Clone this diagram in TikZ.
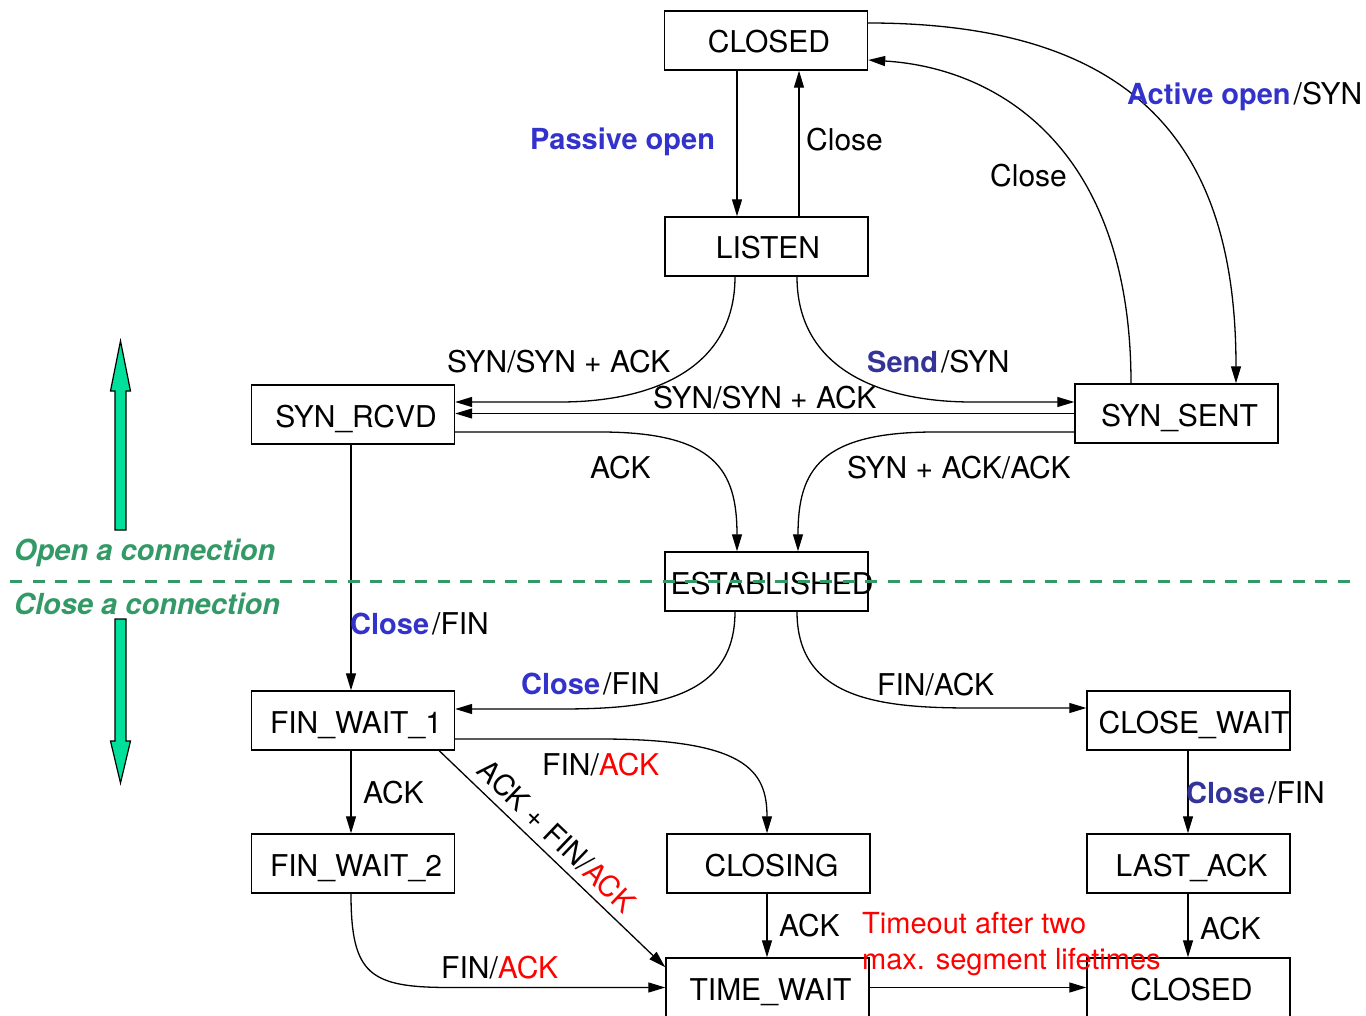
\documentclass[tikz,border=0pt]{standalone}
\usepackage{fontspec}
\setmainfont{TeX Gyre Heros}
\usetikzlibrary{arrows.meta}
\definecolor{actblue}{RGB}{51,51,204}
\definecolor{evtblue}{RGB}{51,51,153}
\definecolor{phasegreen}{RGB}{51,153,102}
\definecolor{mint}{RGB}{0,224,155}
\newcommand{\lblfont}{\fontsize{30}{35}\selectfont}
\newcommand{\boldfont}{\fontsize{29}{34}\selectfont\bfseries}
\newcommand{\notefont}{\fontsize{29}{34}\selectfont}
% state name, nudged right by half the kern without widening the box
\newcommand{\sname}[2][6pt]{\makebox[0pt]{\kern#1#2}}
\begin{document}
\begin{tikzpicture}[x=1pt,y=-1pt,
  state/.style={draw, line width=1.4pt, minimum width=203pt, minimum height=59pt, inner sep=0pt,
                text height=25pt, text depth=0pt, font=\lblfont},
  conn/.style={line width=1.3pt, -{Triangle[length=17pt,width=10pt]}},
  lbl/.style={anchor=base west, inner sep=0pt, font=\lblfont},
  phase/.style={lbl, text=phasegreen, font=\fontsize{29}{34}\selectfont\bfseries\itshape},
  bigarrow/.style={fill=mint, draw=black, line width=1.2pt, line join=miter}]
\useasboundingbox (0,0) rectangle (1366,1016);

% states
\node[state] (closedtop) at (766,40.5) {\sname{CLOSED}};
\node[state] (listen) at (766.5,246.5) {\sname[3pt]{LISTEN}};
\node[state] (synrcvd) at (353,414.5) {\sname{SYN\_RCVD}};
\node[state] (synsent) at (1176.5,413.5) {\sname{SYN\_SENT}};
\node[state] (estab) at (766.5,581.5) {\sname[11pt]{ESTABLISHED}};
\node[state] (fw1) at (353,720.5) {\sname{FIN\_WAIT\_1}};
\node[state] (closewait) at (1188.5,720.5) {\sname[11pt]{CLOSE\_WAIT}};
\node[state] (fw2) at (353,863.5) {\sname{FIN\_WAIT\_2}};
\node[state] (closing) at (768.5,863.5) {\sname{CLOSING}};
\node[state] (lastack) at (1188.5,863.5) {\sname{LAST\_ACK}};
\node[state] (timewait) at (767.5,987.5) {\sname{TIME\_WAIT}};
\node[state] (closedbot) at (1188.5,987.5) {\sname{CLOSED}};

% transitions: opening
\draw[conn] ([xshift=-29pt]closedtop.south) -- ([xshift=-29.5pt]listen.north);
\draw[conn] ([xshift=32.5pt]listen.north) -- ([xshift=33pt]closedtop.south);
\draw[conn] ([yshift=17.5pt]closedtop.east) .. controls (1150,23) and (1236,160) .. ([xshift=59.5pt]synsent.north);
\draw[conn] ([xshift=-45.5pt]synsent.north) .. controls (1131,150) and (1000,68) .. ([yshift=-19.5pt]closedtop.east);
\draw[conn] ([xshift=-31.5pt]listen.south) .. controls (735,370) and (650,402) .. (560,402) -- ([yshift=12.5pt]synrcvd.east);
\draw[conn] ([xshift=30.5pt]listen.south) .. controls (797,370) and (882,402) .. (972,402) -- ([yshift=11.5pt]synsent.west);
\draw[conn] (synsent.west) -- (synsent.west -| synrcvd.east);
\draw[conn] ([yshift=-17.5pt]synrcvd.east) -- (600,432) .. controls (715,432) and (737,470) .. ([xshift=-29.5pt]estab.north);
\draw[conn] ([yshift=-18.5pt]synsent.west) -- (935,432) .. controls (820,432) and (798,470) .. ([xshift=31.5pt]estab.north);

% transitions: closing
\draw[conn] ([xshift=-2pt]synrcvd.south) -- ([xshift=-2pt]fw1.north);
\draw[conn] ([xshift=-31.5pt]estab.south) .. controls (735,700) and (650,709) .. (560,709) -- ([yshift=11.5pt]fw1.east);
\draw[conn] ([xshift=30.5pt]estab.south) .. controls (797,700) and (882,708) .. (972,708) -- ([yshift=12.5pt]closewait.west);
\draw[conn] ([yshift=-18.5pt]fw1.east) -- (600,739) .. controls (745,739) and (767,770) .. ([xshift=-1.5pt]closing.north);
\draw[conn] ([xshift=-16pt]fw1.south east) -- node[pos=0.46, sloped, above=8pt, inner sep=0pt, font=\notefont] (ackfinack) {ACK + FIN/\textcolor{red}{ACK}} ([yshift=-10pt]timewait.north west);
\draw[conn] ([xshift=-2pt]fw1.south) -- ([xshift=-2pt]fw2.north);
\draw[conn] ([xshift=-2pt]fw2.south) .. controls (351,975) and (370,987.5) .. (450,987.5) -- (timewait.west);
\draw[conn] ([xshift=-1.5pt]closing.south) -- ([xshift=-0.5pt]timewait.north);
\draw[conn] (timewait.east) -- (closedbot.west);
\draw[conn] ([xshift=-0.5pt]closewait.south) -- ([xshift=-0.5pt]lastack.north);
\draw[conn] ([xshift=-0.5pt]lastack.south) -- ([xshift=-0.5pt]closedbot.north);

% transition labels
\node[lbl, text=actblue, font=\boldfont] (lpassive) at (530,150) {Passive open};
\node[lbl] (lclose1) at (806,151) {Close};
\node[lbl] (lactive) at (1127,105) {\textcolor{actblue}{\boldfont Active open}\kern3pt/SYN};
\node[lbl] (lclose2) at (990,187) {Close};
\node[lbl] (lsynack1) at (447,373) {SYN/SYN + ACK};
\node[lbl] (lsend) at (867,373) {\textcolor{evtblue}{\boldfont Send}\kern3pt/SYN};
\node[lbl] (lsynack2) at (653,408) {SYN/SYN + ACK};
\node[lbl] (lack1) at (590,478) {ACK};
\node[lbl] (lsynackack) at (847,478) {SYN + ACK/ACK};
\node[lbl] (lclosefin1) at (350,634) {\textcolor{actblue}{\boldfont Close}\kern3pt/FIN};
\node[lbl] (lclosefin2) at (521,694) {\textcolor{actblue}{\boldfont Close}\kern3pt/FIN};
\node[lbl] (lfinack1) at (877,695) {FIN/ACK};
\node[lbl] (lfinack2) at (542,775) {FIN/\textcolor{red}{ACK}};
\node[lbl] (lack2) at (363,803) {ACK};
\node[lbl] (lclosefin3) at (1186,803) {\textcolor{evtblue}{\boldfont Close}\kern3pt/FIN};
\node[lbl] (lack3) at (779,936) {ACK};
\node[lbl] (lack4) at (1200,939) {ACK};
\node[lbl] (lfinack3) at (441,978) {FIN/\textcolor{red}{ACK}};
\node[lbl, text=red, font=\notefont] (ltimeout1) at (862,933) {Timeout after two};
\node[lbl, text=red, font=\notefont] (ltimeout2) at (862,969) {max. segment lifetimes};

% phase markers
\draw[bigarrow] (115,530) -- (115,391) -- (110.5,391) -- (120.5,341) -- (130.5,391) -- (126,391) -- (126,530) -- cycle;
\draw[bigarrow] (115,619) -- (115,741) -- (110.5,741) -- (120.5,783) -- (130.5,741) -- (126,741) -- (126,619) -- cycle;
\node[phase] (lopen) at (14,560) {Open a connection};
\node[phase] (lclosec) at (14,614) {Close a connection};
\draw[phasegreen, line width=3pt, dash pattern=on 12pt off 10.5pt] (10,581) -- (1356,581);
\end{tikzpicture}
\end{document}
